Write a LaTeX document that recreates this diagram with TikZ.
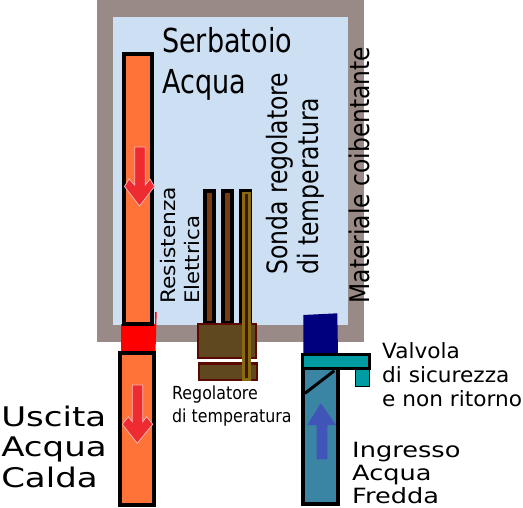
\documentclass[tikz,border=0pt]{standalone}
\usepackage{fontspec}
\setmainfont{DejaVu Sans}
\definecolor{wall}{HTML}{998A87}
\definecolor{tank}{HTML}{CCDFF3}
\definecolor{hot}{HTML}{FF7238}
\definecolor{arrowred}{HTML}{ED2B30}
\definecolor{rod}{HTML}{7A3A12}
\definecolor{reg}{HTML}{5F4820}
\definecolor{regedge}{HTML}{5A0A00}
\definecolor{probe}{HTML}{8A6A10}
\definecolor{probecore}{HTML}{3A1A05}
\definecolor{cold}{HTML}{3A84A4}
\definecolor{valve}{HTML}{009BA3}
\definecolor{navyblk}{HTML}{00007F}
\definecolor{bluearrow}{HTML}{4154B8}
\tikzset{
  pipe/.style={draw=black,line width=4pt},
  rodbox/.style={fill=rod,draw=black,line width=4pt},
  regbox/.style={fill=reg,draw=regedge,line width=2.2pt},
  redarrow/.style={fill=arrowred,draw=white!65!arrowred,line width=.8pt},
  lab/.style={inner sep=0pt,anchor=north west,font=\fontsize{#1}{#1}\selectfont},
  vlab/.style={inner sep=0pt,rotate=90,anchor=south west,font=\fontsize{#1}{#1}\selectfont}
}
\begin{document}
\begin{tikzpicture}[x=1pt,y=-1pt]
\useasboundingbox (0,0) rectangle (523,507);
\fill[wall] (97,0) rectangle (364,342);
\fill[tank] (113,17) rectangle (348,325);
% hot pipes
\fill[red] (121,325) -- (121,324) -- (155,324) -- (155,312) -- (156.7,312) -- (155.5,352) -- (121,352) -- cycle;
\draw[pipe,fill=hot] (124,53.5) rectangle (152.2,323.7);
\draw[pipe,fill=hot] (119.7,353) rectangle (154,505);
\draw[redarrow] (134.7,147) -- (145.3,147) -- (145.3,185) -- (150,179) -- (154.5,186.5) -- (139.5,206) -- (124.5,186.5) -- (129,179) -- (134.7,185) -- cycle;
\draw[redarrow] (132.3,385) -- (142.7,385) -- (142.7,421.7) -- (146.7,416.7) -- (152.7,424.3) -- (137.3,443.3) -- (122.3,424.3) -- (128.3,416.7) -- (132.3,421.7) -- cycle;
% regulator
\draw[rodbox] (205,191.3) rectangle (214.3,323);
\draw[rodbox] (223,191.3) rectangle (232.3,323);
\fill[black] (239,189.3) rectangle (252.3,323);
\draw[regbox] (197.8,323.8) rectangle (256.2,358.2);
\draw[regbox] (198.8,363.4) rectangle (256.6,379.9);
\fill[probe] (241.8,191.7) rectangle (251,381);
\fill[probecore] (245,193.5) rectangle (247.8,378);
% cold side
\fill[navyblk] (303.3,315) -- (337.3,313.3) -- (338,354) -- (303.3,354) -- cycle;
\draw[pipe,fill=cold] (303,355) rectangle (337.5,504);
\draw[fill=valve,draw=black,line width=1pt] (355.9,369) rectangle (369.7,386.7);
\draw[fill=valve,draw=black,line width=2.8pt] (302.4,354.7) rectangle (369.6,368.6);
\draw[black,line width=3pt] (334.3,370.7) -- (305,393.3);
\fill[bluearrow] (320.7,403.3) -- (336,425) -- (327.3,425) -- (327.3,459.3) -- (316.7,459.3) -- (316.7,425) -- (307.3,425) -- cycle;
% labels
\node[lab=33,xscale=.82] (serb) at (162,27) {Serbatoio};
\node[lab=33,xscale=.82] (acq) at (162,69) {Acqua};
\node[vlab=28,xscale=.84] (sonda) at (293.5,275) {Sonda regolatore};
\node[vlab=28,xscale=.84] (sonda2) at (325,275) {di temperatura};
\node[vlab=27,xscale=.867] (mat) at (370,303.5) {Materiale coibentante};
\node[vlab=20,xscale=1.09] (res) at (176,304) {Resistenza};
\node[vlab=20,xscale=1.06] (ele) at (200,304) {Elettrica};
\node[lab=18,xscale=.88] (reglab) at (172,386) {Regolatore};
\node[lab=18,xscale=.88] (reglab2) at (172,409) {di temperatura};
\node[lab=21,xscale=1.03] (v1) at (382,342) {Valvola};
\node[lab=21,xscale=1.03] (v2) at (382,366) {di sicurezza};
\node[lab=21,xscale=1.03] (v3) at (382,390) {e non ritorno};
\node[lab=21,xscale=1.22] (i1) at (352,441.5) {Ingresso};
\node[lab=21,xscale=1.22] (i2) at (352,465) {Acqua};
\node[lab=21,xscale=1.22] (i3) at (352,487) {Fredda};
\node[lab=27,xscale=1.26] (u1) at (1,406) {Uscita};
\node[lab=27,xscale=1.26] (u2) at (1,437) {Acqua};
\node[lab=27,xscale=1.26] (u3) at (1,467) {Calda};
\end{tikzpicture}
\end{document}
